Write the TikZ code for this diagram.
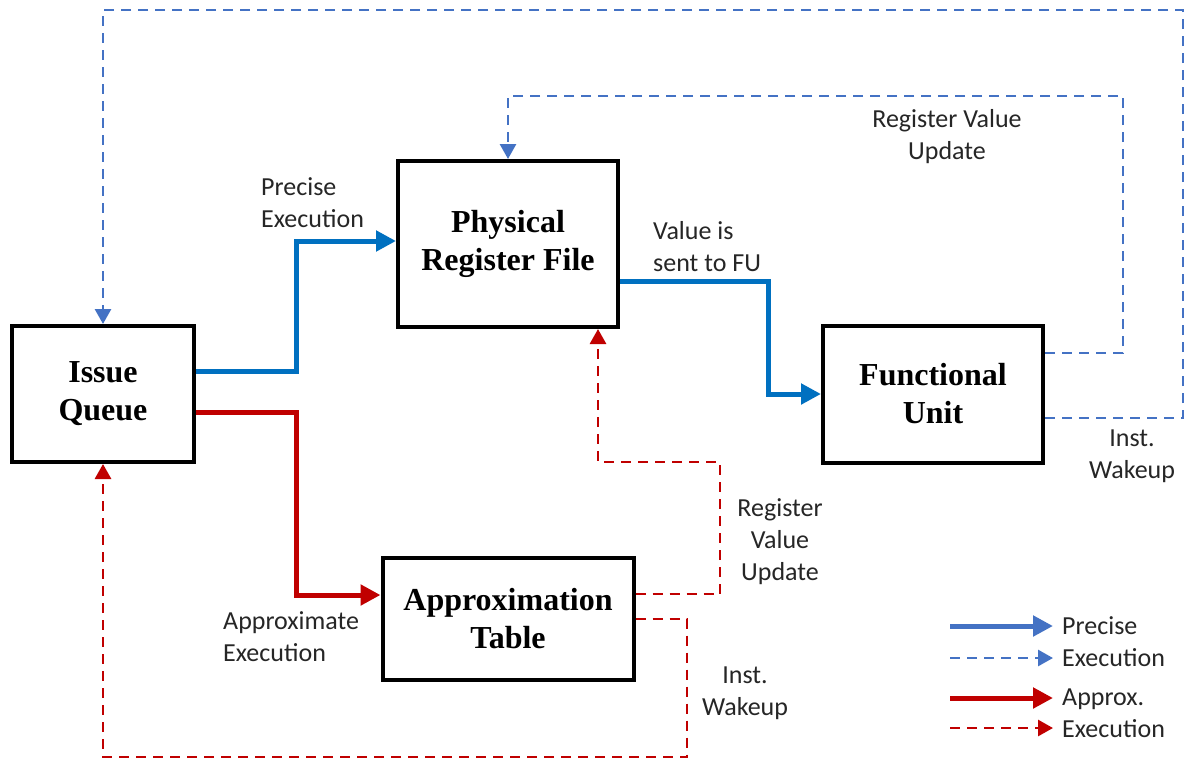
\documentclass[tikz,border=0pt]{standalone}
\usepackage{fontspec}
\setmainfont{Liberation Serif}
\newfontfamily\labfont{Carlito}
\usetikzlibrary{arrows.meta}
\definecolor{bsol}{HTML}{0070C0}
\definecolor{bdash}{HTML}{4472C4}
\definecolor{rred}{HTML}{C00000}
\definecolor{txt}{HTML}{262626}
\begin{document}
\begin{tikzpicture}[x=1pt,y=-1pt,
 box/.style={draw=black,line width=4pt,fill=white,font=\fontsize{32}{38}\selectfont\bfseries,align=center,inner sep=0pt},
 lab/.style={font=\labfont\fontsize{26}{32}\selectfont,text=txt,inner sep=0pt},
 solidarrow/.style={line width=5pt,-{Triangle[length=20pt,width=20pt]}},
 dasharrow/.style={line width=2.8pt,dash pattern=on 10pt off 7pt,-{Triangle[length=15pt,width=16pt]}},
]
\fill[white] (0,0) rectangle (1185,761);
\useasboundingbox (0,0) rectangle (1185,761);

\node[box,minimum width=182pt,minimum height=136pt] (iq) at (103,394) {Issue\\Queue};
\node[box,minimum width=220pt,minimum height=166pt] (prf) at (508,244) {Physical\\Register File};
\node[box,minimum width=220pt,minimum height=137pt] (fu) at (933,394) {Functional\\Unit};
\node[box,minimum width=251pt,minimum height=122pt] (at) at (508,619) {Approximation\\Table};

% solid connectors
\draw[solidarrow,bsol] ([yshift=23pt]iq.east) -- (296,371) -- (296,241) -- ([yshift=3pt]prf.west);
\draw[solidarrow,bsol] ([yshift=-37pt]prf.east) -- (768,281) -- (768,394) -- (fu.west);
\draw[solidarrow,rred] ([yshift=-18pt]iq.east) -- (296,412) -- (296,595) -- ([yshift=24pt]at.west);

% dashed connectors
\draw[dasharrow,bdash] ([yshift=41pt]fu.east) -- (1123,353) -- (1123,96) -- (508,96) -- (prf.north);
\draw[dasharrow,bdash] ([yshift=-24pt]fu.east) -- (1183,418) -- (1183,10) -- (103,10) -- (iq.north);
\draw[dasharrow,rred] ([yshift=25pt]at.east) -- (720,594) -- (720,462) -- (598,462) -- ([xshift=90pt]prf.south);
\draw[dasharrow,rred] (at.east) -- (687,619) -- (687,757) -- (103,757) -- (iq.south);

% labels
\node[lab,align=left,anchor=west] (l1) at (261,203) {Precise\\Execution};
\node[lab,align=left,anchor=west] (l2) at (653,247) {Value is\\sent to FU};
\node[lab,align=center] (l3) at (947,137) {Register Value\\Update};
\node[lab,align=center] (l4) at (1132,456) {Inst.\\Wakeup};
\node[lab,align=center] (l5) at (780,542) {Register\\Value\\Update};
\node[lab,align=left,anchor=west] (l6) at (223,637) {Approximate\\Execution};
\node[lab,align=center] (l7) at (745,693) {Inst.\\Wakeup};

% legend
\coordinate (g1a) at (950,626); \coordinate (g1b) at (1053,626);
\coordinate (g2a) at (950,658); \coordinate (g2b) at (1053,658);
\coordinate (g3a) at (950,698); \coordinate (g3b) at (1053,698);
\coordinate (g4a) at (950,728); \coordinate (g4b) at (1053,728);
\draw[solidarrow,bdash] (g1a) -- (g1b);
\draw[dasharrow,bdash] (g2a) -- (g2b);
\draw[solidarrow,rred] (g3a) -- (g3b);
\draw[dasharrow,rred] (g4a) -- (g4b);
\node[lab,align=left,anchor=west] (lg1) at (1062,642) {Precise\\Execution};
\node[lab,align=left,anchor=west] (lg2) at (1062,713) {Approx.\\Execution};
\end{tikzpicture}
\end{document}
